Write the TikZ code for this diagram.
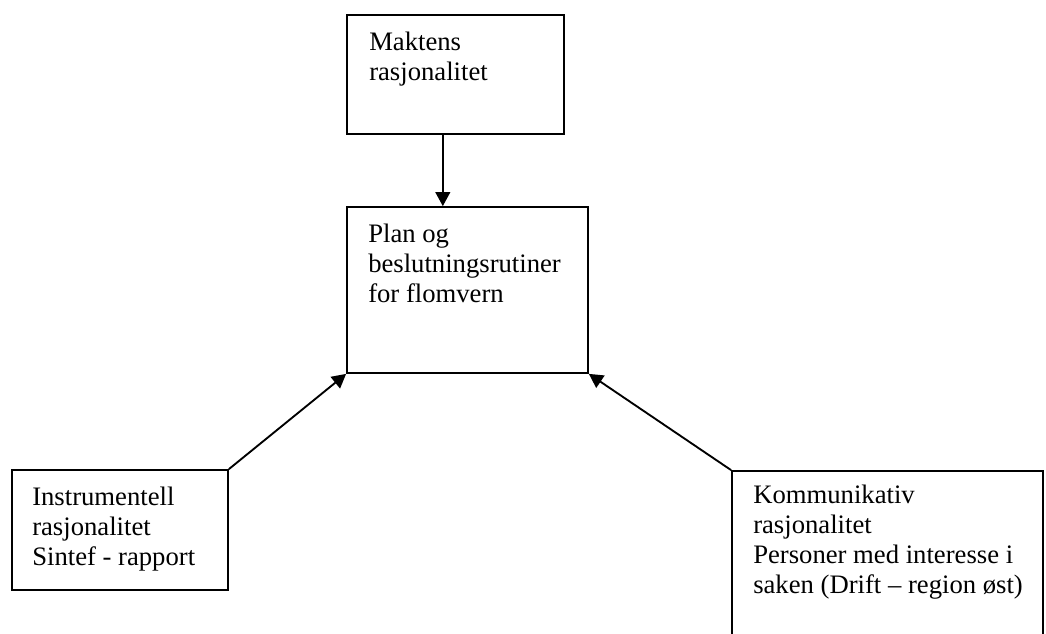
\documentclass[tikz,border=0pt]{standalone}
\usepackage{fontspec}
\setmainfont{Liberation Serif}
\usetikzlibrary{arrows.meta,calc,fit,positioning}

\begin{document}
\begin{tikzpicture}[x=0.75pt, y=-0.75pt,
    planbox/.style={draw=black, line width=1.3pt, inner sep=0pt},
    planlabel/.style={anchor=base west, align=left, inner sep=0pt, text=black,
    font=\fontsize{20}{22.5}\selectfont},
    flow/.style={line width=1.4pt, -{Triangle[length=10.5pt, width=11pt]}}]
    \useasboundingbox (0,0) rectangle (1046,633);
    \clip (0,0) rectangle (1046,633);

    \node (makt) [planbox, fit={(347,15) (564,134)}] {};
    \node (plan) [planbox, fit={(347,207) (588,373)}] {};
    \node (instr) [planbox, fit={(12,470) (228,590)}] {};
    \node (komm) [planbox, fit={(732,471) (1043,660)}] {};

    % base anchor sits on the last line
    \node (makttext) [planlabel] at (369,80) {Maktens\\rasjonalitet};
    \node (plantext) [planlabel] at (368,302) {Plan og\\beslutningsrutiner\\for flomvern};
    \node (instrtext) [planlabel] at (32,565) {Instrumentell\\rasjonalitet\\Sintef - rapport};
    \node (kommtext) [planlabel] at (753,593) {Kommunikativ\\rasjonalitet\\Personer med interesse i\\saken (Drift -- region øst)};

    \coordinate (maktfoot) at ($(makt.south west)!0.442!(makt.south east)$);
    \draw [flow] (maktfoot) -- (maktfoot |- plan.north);
    \draw [flow] (instr.north east) -- (plan.south west);
    \draw [flow] (komm.north west) -- (plan.south east);
\end{tikzpicture}
\end{document}
